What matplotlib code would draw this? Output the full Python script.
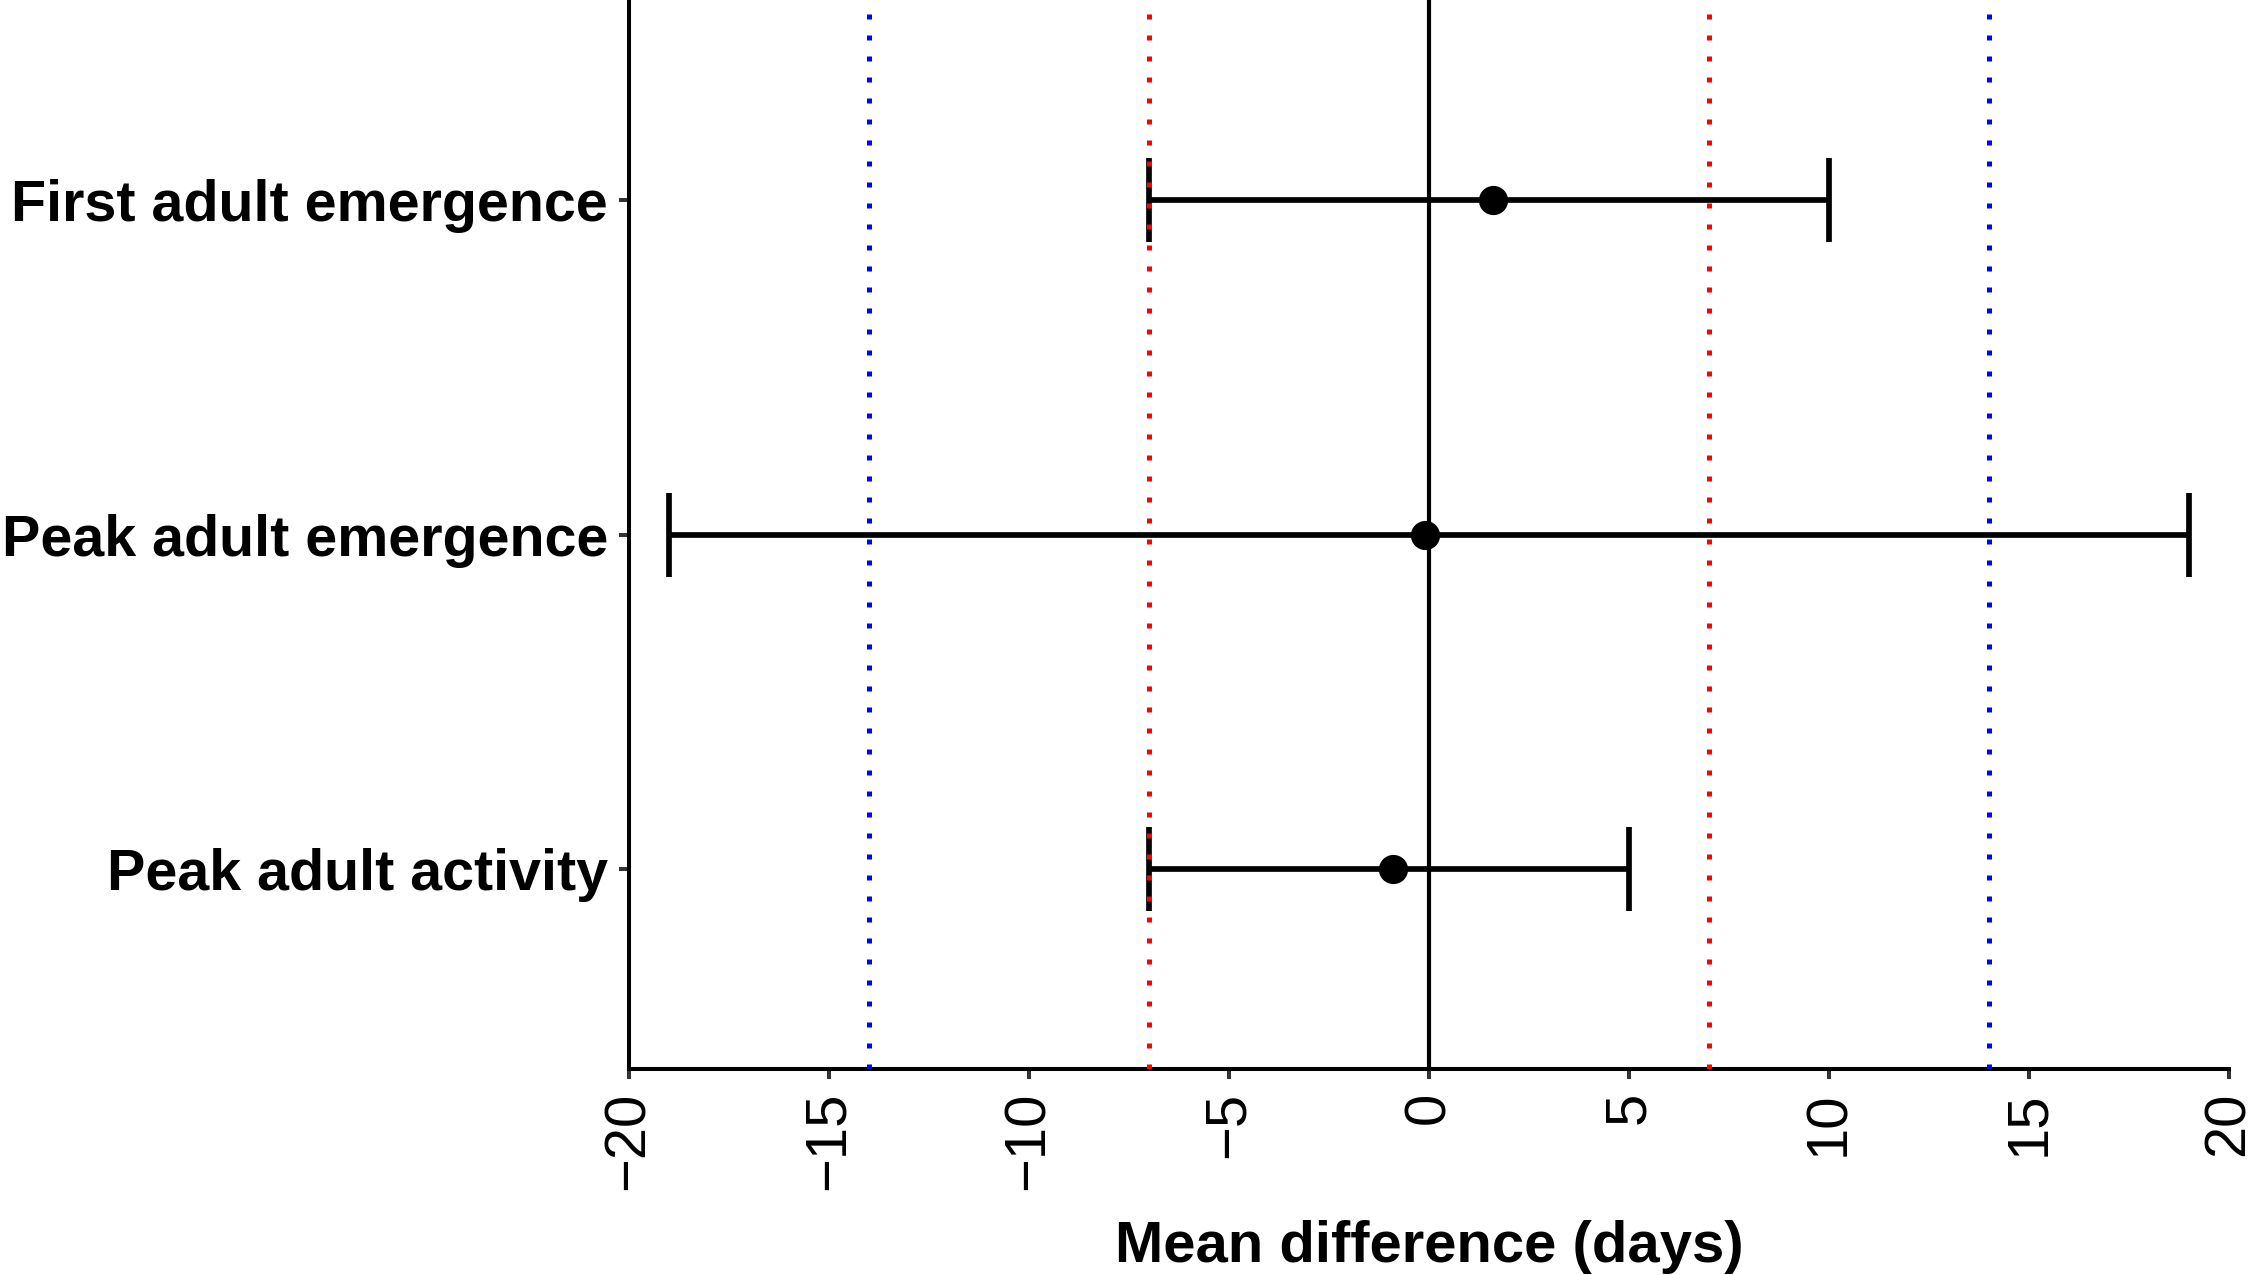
import matplotlib.pyplot as plt
import numpy as np

plt.rcParams['font.family'] = ['Liberation Sans', 'DejaVu Sans']

# data
outcomes = ['Peak adult activity', 'Peak adult emergence', 'First adult emergence']
mean_diff = [-0.9, -0.1, 1.6]
ci_low = [-7, -19, -7]
ci_high = [5, 19, 10]

# reference thresholds (days)
red_lines = [-7, 7]
blue_lines = [-14, 14]
xticks = [-20, -15, -10, -5, 0, 5, 10, 15, 20]

fig = plt.figure(figsize=(22.52, 12.75), dpi=100)
ax = fig.add_axes([629 / 2252, 1 - 1069 / 1275, 1600 / 2252, 1069 / 1275])

ypos = np.arange(1, len(outcomes) + 1)
mean_arr = np.array(mean_diff)
xerr = [mean_arr - np.array(ci_low), np.array(ci_high) - mean_arr]

# error bars
ax.errorbar(mean_diff, ypos, xerr=xerr, fmt='none', ecolor='black',
            elinewidth=4.1, capsize=30, capthick=4.1, zorder=2)

# vertical reference lines
ax.axvline(0, color='black', lw=3.0, zorder=3)
dot = (0, (1.0, 3.2))
for x in red_lines:
    ax.axvline(x, color='#ff0000', lw=3.6, linestyle=dot, zorder=3)
for x in blue_lines:
    ax.axvline(x, color='#0000ff', lw=3.6, linestyle=dot, zorder=3)

# point estimates
ax.plot(mean_diff, ypos, 'o', color='black', markersize=20, zorder=4)

ax.set_xlim(-20, 20)
ax.set_ylim(0.4, 3.6)
ax.set_xticks(xticks)
ax.set_yticks(ypos)
ax.set_yticklabels(outcomes, fontsize=41.3, fontweight='bold')
ax.tick_params(axis='x', labelsize=41.8, labelrotation=90, length=7.2,
               width=2.9, color='#333333', pad=9)
ax.tick_params(axis='y', length=7.2, width=2.9, color='#333333', pad=8)
for lab in ax.get_xticklabels():
    lab.set_va('top')
    lab.set_ha('center')

for s in ['top', 'right']:
    ax.spines[s].set_visible(False)
for s in ['left', 'bottom']:
    ax.spines[s].set_linewidth(2.9)
    ax.spines[s].set_color('black')

ax.set_xlabel('Mean difference (days)', fontsize=41.8, fontweight='bold', labelpad=22)

fig.savefig('out.png', dpi=100)
